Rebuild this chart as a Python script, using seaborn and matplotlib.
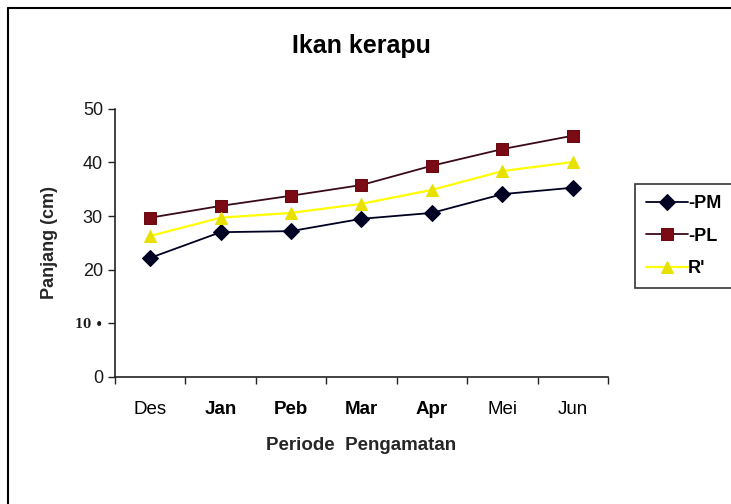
import pandas as pd
import seaborn as sns
import matplotlib.pyplot as plt
from matplotlib.lines import Line2D

bulan = ["Des", "Jan", "Peb", "Mar", "Apr", "Mei", "Jun"]
pm = [22.2, 27.0, 27.2, 29.5, 30.6, 34.1, 35.3]
pl = [29.7, 31.9, 33.8, 35.8, 39.4, 42.5, 45.0]
r_aksen = [26.3, 29.7, 30.6, 32.3, 34.9, 38.4, 40.1]

df = pd.DataFrame({"bulan": bulan, "PM": pm, "PL": pl, "R": r_aksen})

sns.set_style("white")
plt.rcParams["font.family"] = ["Liberation Sans", "DejaVu Sans"]
plt.rcParams["text.color"] = "black"

fig = plt.figure(figsize=(7.31, 5.04), dpi=100)
ax = fig.add_axes([0.157, 0.252, 0.675, 0.532])

sns.lineplot(data=df, x="bulan", y="PM", ax=ax, color="#000022", marker="D",
             markersize=8, markeredgecolor="#000022", linewidth=1.3, label="-PM")
sns.lineplot(data=df, x="bulan", y="PL", ax=ax, color="#3a0a18", marker="s",
             markersize=9, markerfacecolor="#7a0a14", markeredgecolor="#6a0a14",
             linewidth=1.3, label="-PL")
sns.lineplot(data=df, x="bulan", y="R", ax=ax, color="#ffff00", marker="^",
             markersize=9, markerfacecolor="#e8e000", markeredgecolor="#e8e000",
             linewidth=1.6, label="R'")

ax.set_xlim(-0.5, 6.5)
ax.set_ylim(0, 50)
ax.set_yticks([0, 10, 20, 30, 40, 50])
ax.set_yticklabels(["0", "10 \u2022", "20", "30", "40", "50"], fontsize=13, color="#1a1a1a")
lab10 = ax.get_yticklabels()[1]
lab10.set_family("DejaVu Serif")
lab10.set_fontweight("bold")
lab10.set_fontsize(8.5)
ax.yaxis.get_major_ticks()[1].tick1line.set_visible(False)

ax.set_xticks([i - 0.5 for i in range(8)])
ax.set_xticklabels([])
ax.set_xticks(range(7), minor=True)
ax.set_xticklabels(bulan, minor=True, fontsize=13.5, color="black")
for i, t in enumerate(ax.get_xticklabels(minor=True)):
    if bulan[i] in ["Jan", "Peb", "Mar", "Apr"]:
        t.set_fontweight("bold")
ax.tick_params(axis="x", which="minor", length=0, pad=17)
ax.tick_params(axis="both", which="major", direction="out", length=5, width=1,
               color="#222222", left=True, bottom=True)

for s in ["top", "right"]:
    ax.spines[s].set_visible(False)
for s in ["left", "bottom"]:
    ax.spines[s].set_color("#222222")
    ax.spines[s].set_linewidth(1.2)

ax.set_xlabel("Periode  Pengamatan", fontsize=13.5, fontweight="bold", labelpad=14)
ax.set_ylabel("Panjang (cm)", fontsize=13, fontweight="bold", labelpad=12)
ax.set_title("Ikan kerapu", fontsize=18, fontweight="bold", pad=40)

ax.get_legend().remove()
h, l = ax.get_legend_handles_labels()
leg = fig.legend(h, l, loc="upper left", bbox_to_anchor=(0.857, 0.652),
                 prop={"weight": "bold", "size": 13},
                 frameon=True, fancybox=False, handlelength=2.3,
                 labelspacing=0.85, borderpad=0.6, handletextpad=0.0)
leg.get_frame().set_edgecolor("black")
leg.get_frame().set_linewidth(1.2)

fig.add_artist(Line2D([8 / 731, 8 / 731], [0, 1 - 8 / 504], color="black", lw=1.5))
fig.add_artist(Line2D([8 / 731, 1], [1 - 8 / 504, 1 - 8 / 504], color="black", lw=1.5))

plt.savefig("out.png", dpi=100)
